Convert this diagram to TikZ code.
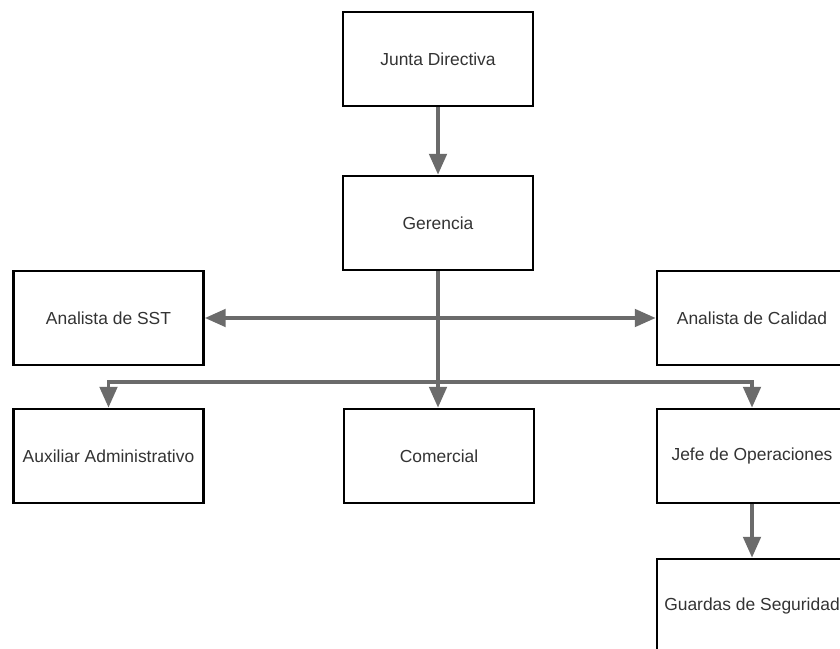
\documentclass[tikz,border=0pt]{standalone}
\usepackage{fontspec}
\setmainfont{Liberation Sans}
\usetikzlibrary{arrows.meta}
\definecolor{gristexto}{HTML}{333333}
\definecolor{grislinea}{HTML}{6B6B6B}
\tikzset{
    %Define standard arrow tip
    >={Triangle[length=0.52cm,width=0.44cm]},
    caja/.style={
      rectangle,
      draw=black, line width=2pt,
      minimum width=4.75cm,
      minimum height=2.35cm,
      inner sep=0pt,
      text=gristexto,
      font=\fontsize{12.4}{14}\selectfont,
      text centered},
    flecha/.style={
      ->,
      draw=grislinea, line width=2.3pt}
}
\begin{document}
\begin{tikzpicture}[x=0.025cm,y=-0.025cm]
\useasboundingbox (0,0) rectangle (840,649);
\clip (0,0) rectangle (840,649);
% boxes
\node [caja] (junta)     at (438,59)  {Junta Directiva};
\node [caja] (gerencia)  at (438,223) {Gerencia};
\node [caja] (sst)       at (108.5,318) {Analista de SST};
\node [caja] (calidad)   at (752,318) {Analista de Calidad};
\node [caja] (auxiliar)  at (108.5,456) {Auxiliar Administrativo};
\node [caja] (comercial) at (439,456) {Comercial};
\node [caja] (jefe)      at (752,456) {Jefe de Operaciones};
\node [caja] (guardas)   at (752,606) {Guardas de Seguridad};
\coordinate (bus) at (438,382);
% connectors
\draw [flecha] (junta) -- (gerencia);
\draw [flecha] (gerencia.south) -- (gerencia.south |- comercial.north);
\draw [flecha,<->] (sst.east) -- (calidad.west);
\draw [flecha] (bus) -| (auxiliar.north);
\draw [flecha] (bus) -| (jefe.north);
\draw [flecha] (jefe) -- (guardas);
\end{tikzpicture}
\end{document}
